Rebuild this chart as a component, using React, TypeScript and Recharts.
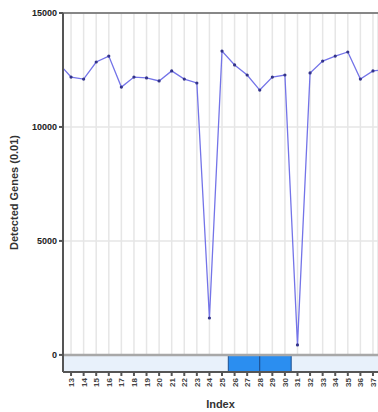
import {
  ComposedChart,
  Line,
  XAxis,
  YAxis,
  CartesianGrid,
  ReferenceArea,
  ReferenceLine,
} from 'recharts'

// index positions (first and last lie just outside the visible window)
const positions = [-1, 0, 1, 2, 3, 4, 5, 6, 7, 8, 9, 10, 11, 12, 13, 14, 15, 16, 17, 18, 19, 20, 21, 22, 23, 24, 25]
const indexLabels = [
  '12', '13', '14', '15', '16', '17', '18', '19', '20', '21', '22', '23', '24', '25',
  '26', '27', '28', '29', '30', '31', '32', '33', '34', '35', '36', '37', '38',
]
const detectedGenes = [
  12800, 12190, 12100, 12850, 13110, 11750, 12190, 12150, 12020, 12460, 12100, 11930, 1620,
  13330, 12720, 12280, 11620, 12190, 12280, 440, 12370, 12890, 13110, 13290, 12100, 12460, 12520,
]
const yTicks = [0, 5000, 10000, 15000]
// highlighted index ranges in the strip under the zero line
const blockStarts = [12.5, 15]
const blockEnds = [15, 17.5]

const X_MIN = -0.64
const X_MAX = 24.4
const STRIP = -750

const data = positions.map((p, i) => ({ idx: p, label: indexLabels[i], genes: detectedGenes[i] }))

const font = '"Liberation Sans", Arial, sans-serif'

function IndexTick(props: any) {
  const { x, y, payload } = props
  const i = positions.indexOf(payload.value)
  return (
    <g transform={`translate(${x},${y})`}>
      <text
        transform="rotate(-90)"
        x={0}
        y={0}
        dy={3}
        textAnchor="end"
        fontSize={8}
        fontWeight="bold"
        fontFamily={font}
        fill="#444"
      >
        {indexLabels[i]}
      </text>
    </g>
  )
}

export default function App() {
  return (
    <div style={{ position: 'absolute', left: 0, top: 0, background: '#fff' }}>
      <ComposedChart
        width={378}
        height={412}
        data={data}
        margin={{ top: 13, right: 0, left: 0, bottom: 0 }}
      >
        <CartesianGrid stroke="#e6e6e6" strokeWidth={1.5} />
        <XAxis
          dataKey="idx"
          type="number"
          domain={[X_MIN, X_MAX]}
          allowDataOverflow
          ticks={positions.slice(1, 26)}
          interval={0}
          height={40}
          stroke="#555"
          strokeWidth={2}
          tickSize={4}
          tickMargin={2}
          tick={<IndexTick />}
          label={{
            value: 'Index',
            position: 'insideBottom',
            offset: 4,
            fontSize: 11,
            fontWeight: 'bold',
            fontFamily: font,
            fill: '#333',
          }}
        />
        <YAxis
          domain={[STRIP, 15000]}
          allowDataOverflow
          ticks={yTicks}
          interval={0}
          width={63}
          stroke="#555"
          strokeWidth={2}
          tickSize={4}
          tickMargin={2}
          tick={{ fontSize: 9, fontWeight: 'bold', fontFamily: font, fill: '#222' }}
          label={{
            value: 'Detected Genes (0.01)',
            angle: -90,
            position: 'insideLeft',
            offset: 14,
            fontSize: 11,
            fontWeight: 'bold',
            fontFamily: font,
            fill: '#333',
            style: { textAnchor: 'middle' },
          }}
        />
        <ReferenceArea y1={STRIP} y2={0} fill="#e8f1fb" fillOpacity={1} stroke="none" ifOverflow="hidden" />
        {blockStarts.map((s, i) => (
          <ReferenceArea
            key={i}
            x1={s}
            x2={blockEnds[i]}
            y1={STRIP}
            y2={0}
            fill="#2b8ef0"
            fillOpacity={1}
            stroke="#1d4f8f"
            strokeWidth={1}
            ifOverflow="hidden"
          />
        ))}
        <ReferenceLine y={0} stroke="#a8a8a8" strokeWidth={2.5} />
        <ReferenceLine y={15000} stroke="#666" strokeWidth={1.5} />
        <Line
          dataKey="genes"
          type="linear"
          stroke="#7474e8"
          strokeWidth={1.3}
          dot={{ r: 1.6, fill: '#33338a', stroke: 'none' }}
          isAnimationActive={false}
        />
      </ComposedChart>
    </div>
  )
}
